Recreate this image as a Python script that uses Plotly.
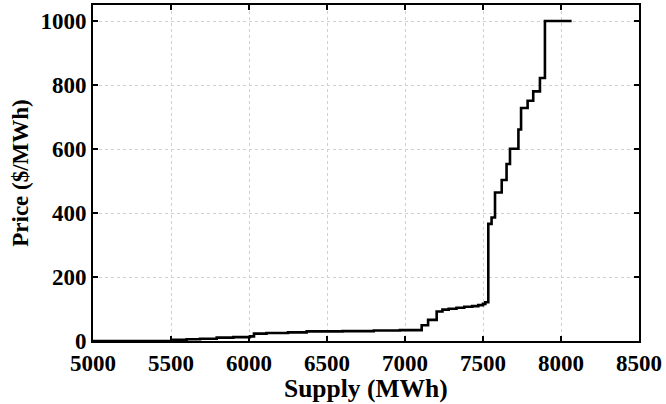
import plotly.graph_objects as go

# Supply curve: each point is where a price step begins (x = supply MWh, y = price $/MWh);
# the last point is where the curve ends.
supply_mwh = [5000, 5505, 5600, 5686, 5793, 5900, 6006, 6032, 6112, 6250, 6370, 6600, 6800, 6968,
              7107, 7148, 7203, 7240, 7280, 7330, 7380, 7430, 7470, 7500, 7515,
              7534, 7555, 7577, 7620, 7651, 7673, 7727, 7744, 7786, 7822, 7865, 7897, 8068]
price_usd = [0, 4, 5.5, 7, 10.5, 12, 14.5, 23, 25, 27, 30, 31, 33, 34,
             49, 66, 92, 98, 101, 104, 107, 109, 112, 116, 121,
             366, 386, 464, 503, 553, 601, 661, 728, 751, 780, 822, 1000, 1000]

x_ticks = [5000, 5500, 6000, 6500, 7000, 7500, 8000, 8500]
y_ticks = [0, 200, 400, 600, 800, 1000]

fig = go.Figure()
fig.add_trace(go.Scatter(x=supply_mwh, y=price_usd, mode="lines",
                         line=dict(color="black", width=2.6, shape="hv"),
                         showlegend=False))

font_family = "Liberation Serif"
axis_common = dict(showline=True, linecolor="black", linewidth=1.8, mirror="ticks",
                   ticks="inside", ticklen=5, tickwidth=1.5, tickcolor="black",
                   showgrid=True, gridcolor="#d0d0d0", gridwidth=1, griddash="dot",
                   zeroline=False,
                   tickfont=dict(family=font_family, size=23, color="black"))

fig.update_layout(
    width=666, height=404,
    margin=dict(l=93, r=27, t=3, b=63),
    paper_bgcolor="white", plot_bgcolor="white",
    font=dict(family=font_family, color="black"),
    xaxis=dict(range=[5000, 8500], tickvals=x_ticks,
               ticktext=["<b>%d</b>" % v for v in x_ticks],
               **axis_common),
    yaxis=dict(range=[0, 1050], tickvals=y_ticks,
               ticktext=["<b>%d</b>" % v for v in y_ticks],
               title=dict(text="<b>Price ($/MWh)</b>", font=dict(size=23), standoff=5),
               **axis_common),
    annotations=[dict(text="<b>Supply (MWh)</b>", xref="paper", yref="paper",
                      x=0.5, y=-0.092, xanchor="center", yanchor="top",
                      showarrow=False, font=dict(family=font_family, size=25.5, color="black"))],
)

fig.write_html("out.html")
